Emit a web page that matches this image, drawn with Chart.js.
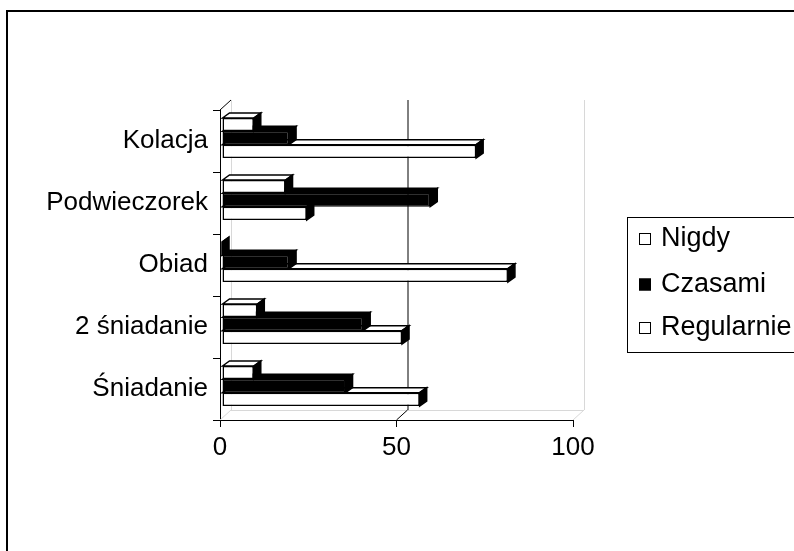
<!DOCTYPE html>
<html>
<head>
<meta charset="utf-8">
<script src="https://cdn.jsdelivr.net/npm/chart.js@4"></script>
<style>
  body { margin: 0; background: #fff; }
  canvas { display: block; }
</style>
</head>
<body>
<canvas id="chart" width="794" height="551"></canvas>
<script>
// data (percent)
const categories = ["Kolacja", "Podwieczorek", "Obiad", "2 śniadanie", "Śniadanie"];
const seriesNames = ["Nigdy", "Czasami", "Regularnie"];
const nigdy = [9, 18, 0, 10, 9];
const czasami = [19, 59, 19, 40, 35];
const regularnie = [72, 24, 81, 51, 56];
const xTicks = [0, 50, 100];

const FONT = "'Liberation Sans', Arial, sans-serif";
const fills = ["#ffffff", "#000000", "#ffffff"];
const DX = 7, DY = -5;        // bar depth
const WX = 11, WY = -10;      // back wall offset

function line(ctx, x1, y1, x2, y2) {
  ctx.beginPath();
  ctx.moveTo(x1, y1);
  ctx.lineTo(x2, y2);
  ctx.stroke();
}

const frame3d = {
  id: "frame3d",
  beforeDraw(chart) {
    const ctx = chart.ctx;
    ctx.save();
    ctx.fillStyle = "#fff";
    ctx.fillRect(0, 0, chart.width, chart.height);
    ctx.restore();
  },
  beforeDatasetsDraw(chart) {
    const ctx = chart.ctx;
    const a = chart.chartArea;
    const xs = chart.scales.x;
    ctx.save();
    ctx.lineWidth = 1;
    // walls and floor, light grey
    ctx.strokeStyle = "#d8d8d8";
    line(ctx, a.left + WX + 0.5, a.top + WY, a.left + WX + 0.5, a.bottom + WY);
    line(ctx, a.right + WX + 0.5, a.top + WY, a.right + WX + 0.5, a.bottom + WY);
    line(ctx, a.left + WX, a.bottom + WY + 0.5, a.right + WX, a.bottom + WY + 0.5);
    xs.ticks.forEach((t, i) => {
      const px = xs.getPixelForValue(t.value);
      const inner = i > 0 && i < xs.ticks.length - 1;
      ctx.strokeStyle = inner ? "#000" : "#d8d8d8";
      line(ctx, px, a.bottom, px + WX, a.bottom + WY);
      if (inner) line(ctx, px + WX + 0.5, a.top + WY, px + WX + 0.5, a.bottom + WY);
    });
    ctx.strokeStyle = "#000";
    line(ctx, a.left, a.top, a.left + WX, a.top + WY);
    // bars sit a little into the depth
    ctx.translate(2, -3);
  },
  afterDatasetDraw(chart, args) {
    const ctx = chart.ctx;
    const fill = fills[args.index];
    ctx.lineWidth = 1.5;
    ctx.strokeStyle = "#000";
    args.meta.data.forEach(el => {
      const p = el.getProps(["x", "y", "base", "height"], true);
      const l = p.base, r = p.x, t = p.y - p.height / 2, b = p.y + p.height / 2;
      // top face
      ctx.beginPath();
      ctx.moveTo(l, t);
      ctx.lineTo(l + DX, t + DY);
      ctx.lineTo(r + DX, t + DY);
      ctx.lineTo(r, t);
      ctx.closePath();
      ctx.fillStyle = fill;
      ctx.fill();
      ctx.stroke();
      // side face
      ctx.beginPath();
      ctx.moveTo(r, t);
      ctx.lineTo(r + DX, t + DY);
      ctx.lineTo(r + DX, b + DY);
      ctx.lineTo(r, b);
      ctx.closePath();
      ctx.fillStyle = "#000";
      ctx.fill();
      ctx.stroke();
    });
  },
  afterDatasetsDraw(chart) {
    chart.ctx.restore();
  },
  afterDraw(chart) {
    const ctx = chart.ctx;
    ctx.save();
    // outer frame
    ctx.strokeStyle = "#000";
    ctx.lineWidth = 2;
    ctx.strokeRect(7, 11, 820, 600);
    // legend
    ctx.lineWidth = 1;
    ctx.strokeRect(627.5, 217.5, 200, 135);
    const rows = [239, 284.5, 328];
    ctx.font = "27px " + FONT;
    ctx.textBaseline = "middle";
    chart.data.datasets.forEach((ds, i) => {
      const y = rows[i];
      ctx.fillStyle = fills[i];
      ctx.fillRect(639, y - 6, 12, 12);
      ctx.strokeStyle = "#000";
      ctx.strokeRect(639.5, y - 5.5, 11, 11);
      ctx.fillStyle = "#000";
      ctx.fillText(ds.label, 661, y);
    });
    ctx.restore();
  }
};

new Chart(document.getElementById("chart"), {
  type: "bar",
  data: {
    labels: categories,
    datasets: [nigdy, czasami, regularnie].map((vals, i) => ({
      label: seriesNames[i],
      data: vals,
      backgroundColor: fills[i],
      borderColor: "#000",
      borderWidth: 1.5,
      borderSkipped: false,
      barPercentage: 1,
      categoryPercentage: 0.645
    }))
  },
  options: {
    indexAxis: "y",
    responsive: false,
    animation: false,
    layout: { padding: { top: 110, right: 221, left: 0, bottom: 0 } },
    plugins: { legend: { display: false }, tooltip: { enabled: false } },
    scales: {
      x: {
        min: 0,
        max: 100,
        afterBuildTicks: s => { s.ticks = xTicks.map(v => ({ value: v })); },
        afterFit: s => { s.height = 131; },
        grid: { drawOnChartArea: false, drawTicks: true, tickLength: 7, color: "#000" },
        border: { display: true, color: "#000" },
        ticks: { color: "#000", font: { family: FONT, size: 26 }, padding: 5, maxRotation: 0 }
      },
      y: {
        afterFit: s => { s.width = 220; },
        grid: { offset: true, drawOnChartArea: false, drawTicks: true, tickLength: 7, color: "#000" },
        border: { display: true, color: "#000" },
        ticks: { color: "#000", font: { family: FONT, size: 26 }, padding: 5 }
      }
    }
  },
  plugins: [frame3d]
});
</script>
</body>
</html>
